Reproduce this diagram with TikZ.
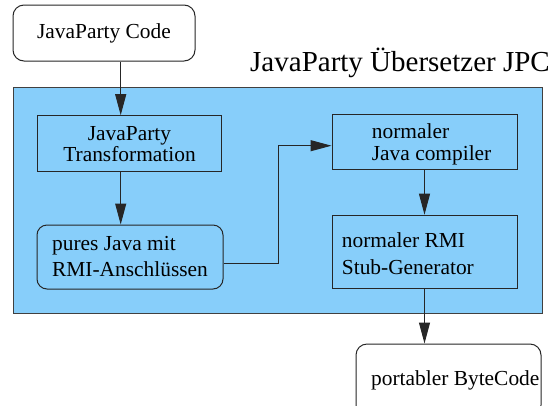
\documentclass[tikz,border=0pt]{standalone}
\usepackage{fontspec}
\setmainfont{Liberation Serif}
\usepackage{tikz}
\usetikzlibrary{arrows.meta, positioning, calc}
\definecolor{jpcblue}{RGB}{135,206,250}

\begin{document}
\begin{tikzpicture}[
    x=1pt, y=-1pt,
    font=\fontsize{21.4}{26}\selectfont,
    >={Triangle[length=21pt, width=11pt]},
    box/.style={rectangle, draw=black!85, line width=1pt, fill=jpcblue, align=center, inner sep=0pt},
    rbox/.style={box, rounded corners=11pt},
    lbl/.style={anchor=north west, inner sep=0pt, align=left},
    line/.style={draw, ->, line width=1pt, black!85}
]
\useasboundingbox (0,0) rectangle (551,405);

% Compiler area
\node[box, draw=black!75, minimum width=529pt, minimum height=226pt] (jpc) at (277.5,200) {};
\node[anchor=base east, inner sep=0pt, font=\fontsize{29}{33}\selectfont] (jpctitle) at (550,71) {JavaParty Übersetzer JPC};

% Nodes
\node[rbox, fill=white, minimum width=182pt, minimum height=56pt] (code) at (104,33) {JavaParty Code};

\node[box, minimum width=184pt, minimum height=56pt, font=\fontsize{21.4}{21}\selectfont] (transform) at (129.5,143.7) {JavaParty\\Transformation};
\node[rbox, rounded corners=10pt, minimum width=186pt, minimum height=64pt, align=left] (pures) at (130,257) {pures Java mit\\RMI-Anschlüssen};

\node[box, minimum width=185pt, minimum height=55pt] (compiler) at (424.5,141.5) {};
\node[lbl, font=\fontsize{21.4}{22}\selectfont] (compilertext) at (371.7,123.4) {normaler\\Java compiler};

\node[box, minimum width=185pt, minimum height=73pt] (stub) at (424.5,251.7) {};
\node[lbl, font=\fontsize{21.4}{27}\selectfont] (stubtext) at (341.7,232.1) {normaler RMI\\Stub-Generator};

\node[rbox, fill=white, minimum width=185pt, minimum height=72pt] (bytecode) at (448.5,380) {};
\node[lbl, anchor=base west] (bytecodetext) at (371,385) {portabler ByteCode};

% Edges
\draw[line] ($(code.south)+(16.7,0)$) coordinate (c1) -- (c1 |- transform.north);
\draw[line] ($(transform.south)+(-8.8,0)$) coordinate (c2) -- (c2 |- pures.north);
\draw[line] ($(pures.east)+(0,6.3)$) -- ++(55,0) |- ($(compiler.west)+(0,4.2)$);
\draw[line] (compiler) -- (stub);
\draw[line] (stub.south) -- (stub.south |- bytecode.north);

\end{tikzpicture}
\end{document}
